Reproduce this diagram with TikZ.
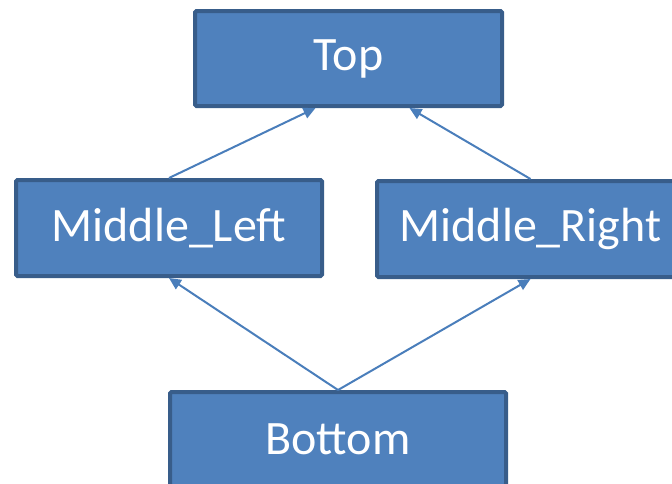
\documentclass[tikz,border=0pt]{standalone}
\usepackage{fontspec}
\setmainfont{Carlito}
\usetikzlibrary{arrows.meta}
\definecolor{boxfill}{HTML}{4F81BD}
\definecolor{boxline}{HTML}{385D8A}
\definecolor{linkcol}{HTML}{4A7EBB}
\begin{document}
\begin{tikzpicture}[x=1pt,y=-1pt,
  block/.style={draw=boxline, line width=4pt, fill=boxfill, rounded corners=1.5pt,
    text=white, font=\fontsize{48}{52}\selectfont, inner sep=0pt, anchor=north west},
  link/.style={draw=linkcol, line width=2pt, -{Triangle[length=12pt,width=11pt]}}]
  \useasboundingbox (0,0) rectangle (672,483);
  \clip (0,0) rectangle (672,483);
  \node[block, minimum width=307pt, minimum height=95pt] (top) at (193,9) {Top};
  \node[block, minimum width=306pt, minimum height=96pt] (ml) at (14,178) {Middle\_Left};
  \node[block, minimum width=307pt, minimum height=96pt] (mr) at (375,179) {Middle\_Right};
  \node[block, minimum width=336pt, minimum height=94pt] (bot) at (168,390) {Bottom};
  \draw[link] (ml.north) -- ([xshift=-33pt]top.south);
  \draw[link] (mr.north) -- ([xshift=61pt]top.south);
  \draw[link] (bot.north) -- (ml.south);
  \draw[link] (bot.north) -- (mr.south);
\end{tikzpicture}
\end{document}
